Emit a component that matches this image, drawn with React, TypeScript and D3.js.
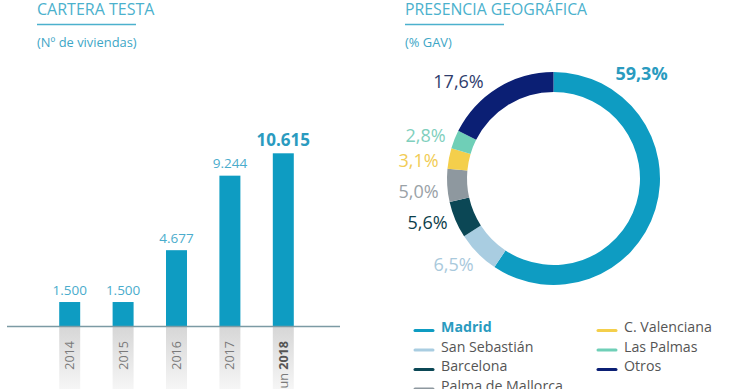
import React from "react";
import * as d3 from "d3";

const years = ["2014", "2015", "2016", "2017", "2018"];
const yearPrefix = ["", "", "", "", "Jun "];
const viviendas = [1500, 1500, 4677, 9244, 10615];
const viviendaLabels = ["1.500", "1.500", "4.677", "9.244", "10.615"];

const regions = ["Madrid", "San Sebastián", "Barcelona", "Palma de Mallorca", "C. Valenciana", "Las Palmas", "Otros"];
const gavShare = [59.3, 6.5, 5.6, 5.0, 3.1, 2.8, 17.6];
const gavLabels = ["59,3%", "6,5%", "5,6%", "5,0%", "3,1%", "2,8%", "17,6%"];

const regionColors = ["#0e9cc2", "#a9cde1", "#0b4755", "#8e989f", "#f4cf4b", "#6fcfb7", "#0b1f74"];
const labelColors = ["#2a9bbf", "#a9c9dc", "#0c3e4b", "#9aa2a7", "#f1cc55", "#7fcfbd", "#2f3d6d"];
// label centre offsets relative to donut centre (layout)
const labelOffsets: [number, number][] = [
  [88, -105], [-100, 86], [-126, 44], [-135, 13], [-135, -18], [-128, -43], [-95, -97],
];

const FONT = "'Open Sans', 'Noto Sans', sans-serif";
const TEAL_T = "#4bb1cd";

export default function App() {
  const W = 740, H = 389;
  const x = d3.scaleBand<string>().domain(years).range([43, 310]).paddingInner(0.607).paddingOuter(0.3035);
  const baseY = 326.5;
  const y = d3.scaleLinear().domain([0, 10615]).range([baseY, 153.3]);

  const cx = 553.5, cy = 178.5;
  const pie = d3.pie<number>().sort(null).value((d) => d)(gavShare);
  const arc = d3.arc<d3.PieArcDatum<number>>().innerRadius(86.5).outerRadius(106.5);

  const legendRows = [
    { col: 0, row: 0, i: 0 }, { col: 0, row: 1, i: 1 }, { col: 0, row: 2, i: 2 }, { col: 0, row: 3, i: 3 },
    { col: 1, row: 0, i: 4 }, { col: 1, row: 1, i: 5 }, { col: 1, row: 2, i: 6 },
  ];
  const legX = [415, 598];

  return (
    <svg width={W} height={H} style={{ position: "absolute", left: 0, top: 0, fontFamily: FONT }}>
      <defs>
        <linearGradient id="shade" x1="0" y1="0" x2="0" y2="1">
          <stop offset="0" stopColor="#d6d6d6" />
          <stop offset="1" stopColor="#f6f6f6" />
        </linearGradient>
      </defs>
      <rect width={W} height={H} fill="#fff" />

      {/* Left titles */}
      <text x={37} y={15} fontSize={16} fill={TEAL_T}>CARTERA TESTA</text>
      <line x1={37} x2={136} y1={24.5} y2={24.5} stroke={TEAL_T} strokeWidth={1.5} />
      <text x={37} y={47} fontSize={12.9} fill="#3da6c6">(Nº de viviendas)</text>

      {/* Bars */}
      {years.map((yr, i) => (
        <g key={yr}>
          <rect x={x(yr)} y={baseY} width={x.bandwidth()} height={H - baseY} fill="url(#shade)" />
          <rect x={x(yr)} y={y(viviendas[i])} width={x.bandwidth()} height={baseY - y(viviendas[i])} fill="#0e9cc2" />
          <text
            x={(x(yr) as number) + x.bandwidth() / 2}
            y={y(viviendas[i]) - (i === 4 ? 7 : 7.5)}
            textAnchor="middle"
            fontSize={i === 4 ? 17 : 13.5}
            fontWeight={i === 4 ? 700 : 400}
            fill={i === 4 ? "#2a9bbf" : "#4aaccc"}
          >
            {viviendaLabels[i]}
          </text>
          <text
            transform={`translate(${(x(yr) as number) + x.bandwidth() / 2},341) rotate(-90)`}
            textAnchor="end"
            dy="0.35em"
            fontSize={12.6}
            fill="#7a7a7a"
          >
            {yearPrefix[i]}
            <tspan fontWeight={i === 4 ? 700 : 400} fill={i === 4 ? "#555" : "#7a7a7a"}>{yr}</tspan>
          </text>
        </g>
      ))}
      <line x1={7} x2={340} y1={baseY} y2={baseY} stroke="#7c9aa4" strokeWidth={1.5} />

      {/* Right titles */}
      <text x={405} y={15} fontSize={15.8} fill={TEAL_T}>PRESENCIA GEOGRÁFICA</text>
      <line x1={405} x2={504} y1={24.5} y2={24.5} stroke={TEAL_T} strokeWidth={1.5} />
      <text x={405} y={47} fontSize={12.9} fill="#3da6c6">(% GAV)</text>

      {/* Donut */}
      <g transform={`translate(${cx},${cy})`}>
        {pie.map((p, i) => (
          <path key={i} d={arc(p) as string} fill={regionColors[i]} />
        ))}
        {gavLabels.map((l, i) => (
          <text
            key={i}
            x={labelOffsets[i][0]}
            y={labelOffsets[i][1]}
            dy="0.36em"
            textAnchor="middle"
            fontSize={18}
            fontWeight={i === 0 ? 700 : 400}
            fill={labelColors[i]}
          >
            {l}
          </text>
        ))}
      </g>

      {/* Legend */}
      {legendRows.map(({ col, row, i }) => {
        const ly = 332 + row * 19.5;
        return (
          <g key={i}>
            <line x1={legX[col]} x2={legX[col] + 18} y1={ly - 1.5} y2={ly - 1.5} stroke={regionColors[i]} strokeWidth={3} strokeLinecap="round" />
            <text x={legX[col] + 26} y={ly} fontSize={14.2} fontWeight={i === 0 ? 700 : 400} fill={i === 0 ? "#2a9bbf" : "#555"}>
              {regions[i]}
            </text>
          </g>
        );
      })}
    </svg>
  );
}
